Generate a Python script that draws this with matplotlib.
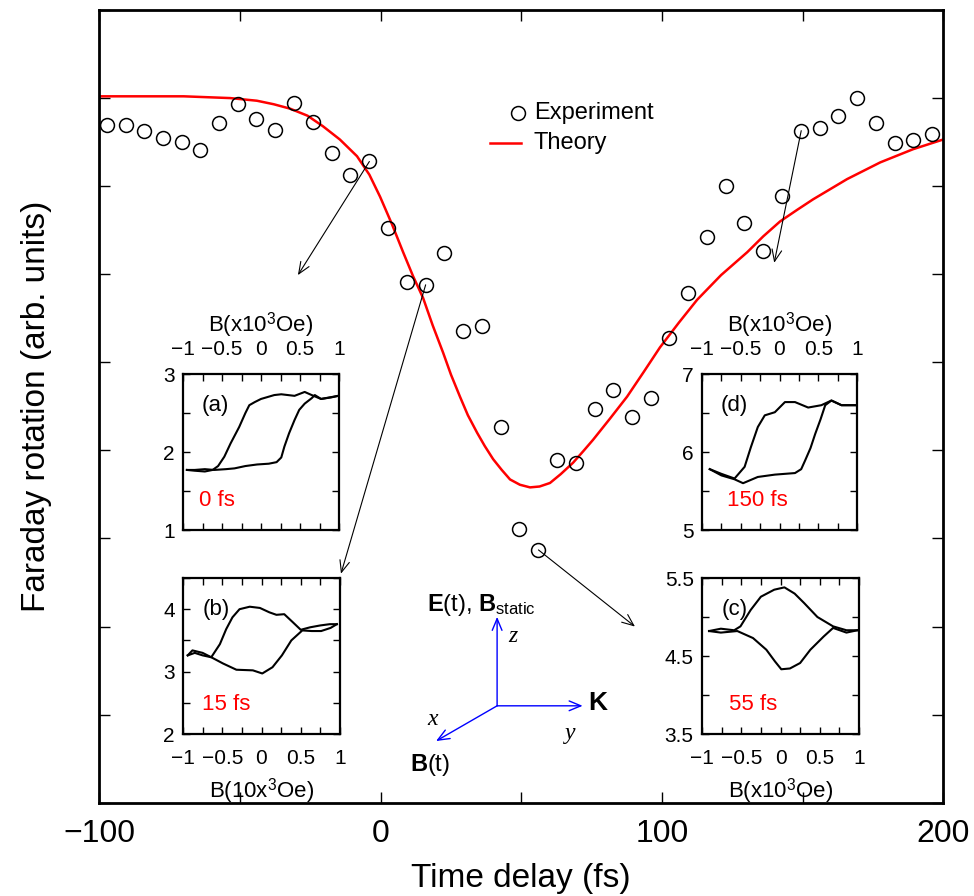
import matplotlib

matplotlib.use("Agg")
import matplotlib.pyplot as plt
from matplotlib.ticker import FixedLocator, FuncFormatter, MultipleLocator

plt.rcParams["font.family"] = ["Liberation Sans", "DejaVu Sans"]
plt.rcParams["mathtext.fontset"] = "custom"
plt.rcParams["mathtext.rm"] = "Liberation Sans"
plt.rcParams["mathtext.bf"] = "Liberation Sans:bold"
plt.rcParams["mathtext.it"] = "Liberation Serif:italic"

# measured Faraday rotation (open circles)
exp_t = [-97.4, -90.6, -84.1, -77.5, -70.7, -64.2, -57.4, -50.8, -44.2, -37.5,
         -30.7, -24.1, -17.4, -10.8, -4.0, 2.7, 9.3, 16.0, 22.6, 29.4,
         36.0, 42.7, 49.3, 56.1, 62.7, 69.4, 76.1, 82.7, 89.4, 96.0,
         102.5, 109.4, 115.9, 122.7, 129.3, 135.9, 142.7, 149.5, 156.1, 162.7,
         169.4, 176.1, 182.8, 189.4, 196.1]
exp_rot = [7.70, 7.69, 7.63, 7.55, 7.50, 7.41, 7.72, 7.93, 7.76, 7.64,
           7.94, 7.73, 7.38, 7.13, 7.28, 6.52, 5.91, 5.88, 6.24, 5.36,
           5.41, 4.27, 3.11, 2.87, 3.89, 3.86, 4.47, 4.68, 4.38, 4.60,
           5.28, 5.79, 6.42, 7.00, 6.58, 6.26, 6.89, 7.63, 7.66, 7.80,
           8.00, 7.72, 7.49, 7.52, 7.59]

# theory curve (red)
th_t = [-100.0, -70.0, -53.5, -44.0, -38.0, -32.2, -26.0, -20.5, -14.5, -8.4,
        -4.0, -0.2, 4.0, 8.0, 11.5, 15.1, 18.5, 22.2, 25.0, 28.2,
        31.0, 34.3, 37.0, 40.0, 43.0, 46.0, 49.5, 53.1, 56.5, 60.2,
        64.0, 68.4, 72.0, 75.5, 81.5, 87.6, 93.5, 99.3, 106.0, 112.5,
        121.0, 130.3, 136.0, 142.0, 148.0, 153.7, 165.8, 177.6, 189.3, 200.0]
th_rot = [8.02, 8.02, 8.00, 7.97, 7.93, 7.88, 7.80, 7.68, 7.53, 7.34,
          7.13, 6.88, 6.57, 6.25, 5.98, 5.73, 5.42, 5.11, 4.86, 4.61,
          4.40, 4.20, 4.05, 3.90, 3.78, 3.67, 3.61, 3.58, 3.59, 3.63,
          3.73, 3.86, 3.99, 4.12, 4.36, 4.61, 4.89, 5.17, 5.45, 5.71,
          5.99, 6.25, 6.43, 6.60, 6.73, 6.85, 7.08, 7.27, 7.42, 7.53]

# hysteresis loops, field in 10^3 Oe
a_up_b = [-0.95, -0.85, -0.72, -0.62, -0.55, -0.47, -0.39, -0.28, -0.2, -0.15,
          -0.08, 0.0, 0.17, 0.26, 0.43, 0.56, 0.65, 0.77, 0.88, 0.99]
a_up_v = [1.77, 1.76, 1.75, 1.77, 1.82, 1.94, 2.11, 2.32, 2.50, 2.60,
          2.64, 2.68, 2.73, 2.74, 2.72, 2.77, 2.73, 2.68, 2.70, 2.72]
a_lo_b = [-0.95, -0.85, -0.72, -0.6, -0.45, -0.34, -0.2, -0.05, 0.1, 0.2,
          0.26, 0.3, 0.36, 0.43, 0.49, 0.56, 0.65, 0.69, 0.77, 0.9, 0.99]
a_lo_v = [1.77, 1.77, 1.78, 1.77, 1.78, 1.79, 1.82, 1.84, 1.85, 1.87,
          1.93, 2.07, 2.24, 2.41, 2.54, 2.62, 2.69, 2.73, 2.68, 2.70, 2.72]

b_up_b = [-0.94, -0.88, -0.75, -0.64, -0.53, -0.45, -0.37, -0.28, -0.15, -0.02,
          0.10, 0.19, 0.29, 0.40, 0.50, 0.62, 0.75, 0.87, 0.96]
b_up_v = [3.26, 3.34, 3.30, 3.23, 3.44, 3.68, 3.87, 4.00, 4.04, 4.02,
          3.95, 3.91, 3.92, 3.79, 3.67, 3.71, 3.74, 3.76, 3.76]
b_lo_b = [-0.94, -0.85, -0.75, -0.64, -0.49, -0.32, -0.11, 0.01, 0.14, 0.26,
          0.38, 0.52, 0.64, 0.76, 0.88, 0.96]
b_lo_v = [3.26, 3.30, 3.26, 3.23, 3.13, 3.03, 3.02, 2.97, 3.07, 3.26,
          3.50, 3.66, 3.65, 3.65, 3.70, 3.76]

c_up_b = [-0.91, -0.76, -0.59, -0.51, -0.38, -0.25, -0.08, 0.05, 0.18, 0.3,
          0.47, 0.67, 0.84, 0.98]
c_up_v = [4.82, 4.85, 4.83, 4.88, 5.09, 5.26, 5.35, 5.38, 5.30, 5.18,
          5.00, 4.88, 4.83, 4.83]
c_lo_b = [-0.91, -0.76, -0.55, -0.35, -0.18, -0.07, 0.01, 0.12, 0.25, 0.38,
          0.55, 0.67, 0.84, 0.98]
c_lo_v = [4.82, 4.80, 4.82, 4.73, 4.58, 4.43, 4.33, 4.34, 4.41, 4.58,
          4.75, 4.86, 4.80, 4.83]

d_up_b = [-0.9, -0.75, -0.58, -0.45, -0.37, -0.28, -0.19, -0.06, 0.07, 0.2,
          0.37, 0.54, 0.67, 0.8, 1.0]
d_up_v = [5.78, 5.72, 5.66, 5.81, 6.06, 6.32, 6.47, 6.51, 6.64, 6.64,
          6.57, 6.60, 6.66, 6.60, 6.60]
d_lo_b = [-0.9, -0.75, -0.58, -0.47, -0.28, -0.06, 0.2, 0.28, 0.33, 0.40,
          0.46, 0.53, 0.59, 0.67, 0.8, 1.0]
d_lo_v = [5.78, 5.70, 5.65, 5.60, 5.68, 5.71, 5.73, 5.78, 5.89, 6.05,
          6.23, 6.42, 6.60, 6.66, 6.60, 6.60]

# arrows from data points to insets: (start t, start y, tip t, tip y)
LINKS = [(-4.0, 7.28, -29.4, 5.99), (16.0, 5.88, -14.1, 2.60),
         (56.1, 2.87, 90.4, 2.00), (149.5, 7.63, 139.9, 6.13)]

W, H = 974, 896
ARROW = "->,head_length=0.6,head_width=0.25"


def _rect(x0, y_top, w, h):
    # pixel box -> figure fraction
    return [x0 / W, (H - y_top - h) / H, w / W, h / H]


def _fmt(v, _pos):
    return f"{v:g}".replace("-", "\u2212")


def draw_inset(fig, rect, up, lo, ylim, ylabels, tag, delay, delay_x, on_top, xlabel):
    ax = fig.add_axes(rect)
    ax.plot(up[0], up[1], color="black", lw=1.5)
    ax.plot(lo[0], lo[1], color="black", lw=1.5)
    ax.set_xlim(-1, 1)
    ax.set_ylim(*ylim)
    ax.xaxis.set_major_locator(MultipleLocator(0.5))
    ax.xaxis.set_minor_locator(MultipleLocator(0.25))
    ax.xaxis.set_major_formatter(FuncFormatter(_fmt))
    ax.yaxis.set_major_locator(FixedLocator(ylabels))
    ax.yaxis.set_minor_locator(MultipleLocator(0.5))
    ax.yaxis.set_major_formatter(FuncFormatter(_fmt))
    ax.tick_params(which="both", direction="in", top=True, right=True,
                   length=5, width=1.0, labelsize=15, pad=11)
    ax.tick_params(axis="y", pad=6)
    if on_top:
        ax.tick_params(axis="x", labeltop=True, labelbottom=False)
        ax.xaxis.set_label_position("top")
    ax.set_xlabel(xlabel, fontsize=16, labelpad=6)
    for s in ax.spines.values():
        s.set_linewidth(1.6)
    ax.text(0.21, 0.80, tag, transform=ax.transAxes, fontsize=16,
            ha="center", va="center")
    ax.text(delay_x, 0.19, delay, transform=ax.transAxes, fontsize=16,
            color="red", ha="left", va="center")
    return ax


def main() -> None:
    fig = plt.figure(figsize=(W / 100, H / 100), dpi=100)
    ax = fig.add_axes(_rect(99.3, 10, 844, 792.7))

    ax.plot(th_t, th_rot, color="red", lw=1.8, zorder=2)
    ax.plot(exp_t, exp_rot, ls="none", marker="o", ms=10, mfc="none",
            mec="black", mew=1.1, zorder=3)

    ax.set_xlim(-100, 200)
    ax.set_ylim(0, 9)
    ax.xaxis.set_major_locator(MultipleLocator(100))
    ax.xaxis.set_minor_locator(MultipleLocator(50))
    ax.yaxis.set_major_locator(MultipleLocator(1))
    ax.tick_params(which="both", direction="in", top=True, right=True,
                   length=8, width=1.0)
    ax.tick_params(axis="x", labelsize=23, pad=12)
    ax.tick_params(axis="y", labelleft=False)
    for s in ax.spines.values():
        s.set_linewidth(2.0)
    ax.set_xlabel("Time delay (fs)", fontsize=24, labelpad=10)
    ax.set_ylabel("Faraday rotation (arb. units)", fontsize=24, labelpad=34)

    # legend drawn by hand, gnuplot style
    ax.plot([0.4963], [0.870], transform=ax.transAxes, marker="o", ms=10,
            mfc="none", mec="black", mew=1.1)
    ax.plot([0.4626, 0.4993], [0.8322, 0.8322], transform=ax.transAxes,
            color="red", lw=1.8)
    ax.text(0.515, 0.870, "Experiment", transform=ax.transAxes, fontsize=17,
            va="center")
    ax.text(0.515, 0.8322, "Theory", transform=ax.transAxes, fontsize=17,
            va="center")

    for t0, y0, t1, y1 in LINKS:
        ax.annotate("", xy=(t1, y1), xytext=(t0, y0),
                    arrowprops=dict(arrowstyle=ARROW, color="black", lw=0.8,
                                    mutation_scale=14, shrinkA=0, shrinkB=0))

    # field geometry sketch
    origin = (41.4, 1.10)
    for tip in [(41.4, 2.11), (71.8, 1.10), (19.7, 0.70)]:
        ax.annotate("", xy=tip, xytext=origin,
                    arrowprops=dict(arrowstyle=ARROW, color="blue", lw=1.0,
                                    mutation_scale=14, shrinkA=0, shrinkB=0))
    ax.text(16.4, 2.25, r"$\mathbf{E}$(t), $\mathbf{B}_{\mathrm{static}}$",
            fontsize=17, ha="left", va="center")
    ax.text(77.3, 1.13, "K", fontsize=19, fontweight="bold", ha="center", va="center")
    ax.text(17.6, 0.43, r"$\mathbf{B}$(t)", fontsize=17, ha="center", va="center")
    serif = dict(family="Liberation Serif", style="italic", fontsize=17,
                 ha="center", va="center")
    ax.text(47.0, 1.89, "z", **serif)
    ax.text(67.3, 0.79, "y", **serif)
    ax.text(18.6, 0.94, "x", **serif)

    draw_inset(fig, _rect(183, 374, 156, 156), (a_up_b, a_up_v), (a_lo_b, a_lo_v),
               (1, 3), [1, 2, 3], "(a)", "0 fs", 0.10, True, "B(x10$^3$Oe)")
    draw_inset(fig, _rect(183, 578, 157, 156), (b_up_b, b_up_v), (b_lo_b, b_lo_v),
               (2, 4.5), [2, 3, 4], "(b)", "15 fs", 0.12, False, "B(10x$^3$Oe)")
    draw_inset(fig, _rect(702, 374, 155, 156), (d_up_b, d_up_v), (d_lo_b, d_lo_v),
               (5, 7), [5, 6, 7], "(d)", "150 fs", 0.16, True, "B(x10$^3$Oe)")
    draw_inset(fig, _rect(702, 578, 157, 156), (c_up_b, c_up_v), (c_lo_b, c_lo_v),
               (3.5, 5.5), [3.5, 4.5, 5.5], "(c)", "55 fs", 0.17, False, "B(x10$^3$Oe)")

    fig.savefig("out.png", dpi=100)
    plt.close(fig)


if __name__ == "__main__":
    main()
